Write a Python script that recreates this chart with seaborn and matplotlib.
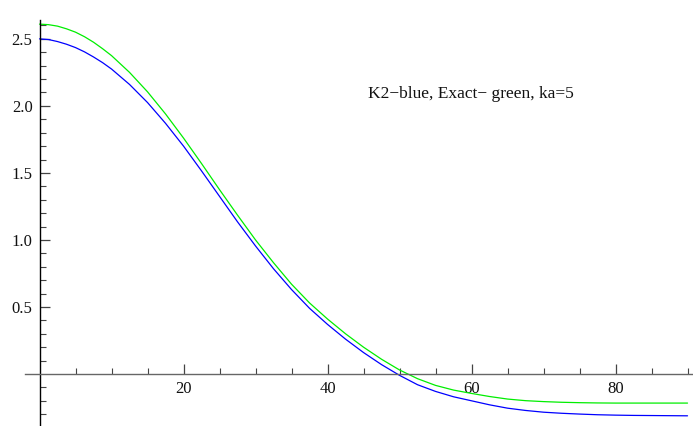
import numpy as np
import pandas as pd
import matplotlib
matplotlib.use("Agg")
import matplotlib.pyplot as plt
import seaborn as sns
from matplotlib.ticker import FixedLocator

sns.set_style("white")
plt.rcParams['font.family'] = ['Liberation Serif', 'DejaVu Serif']

# values
x_vals = [0, 1.25, 2.5, 3.75, 5, 6.25, 7.5, 8.75, 10, 12.5, 15, 17.5, 20, 22.5,
          25, 27.5, 30, 32.5, 35, 37.5, 40, 42.5, 45, 47.5, 50, 52.5, 55, 57.5,
          60, 62.5, 65, 67.5, 70, 72.5, 75, 77.5, 80, 82.5, 85, 87.5, 90]
k2_blue = [2.50, 2.495, 2.48, 2.46, 2.435, 2.403, 2.365, 2.323, 2.275, 2.16,
           2.025, 1.87, 1.70, 1.515, 1.325, 1.135, 0.955, 0.785, 0.63, 0.49,
           0.37, 0.26, 0.16, 0.07, -0.01, -0.08, -0.13, -0.17, -0.20, -0.23,
           -0.255, -0.272, -0.285, -0.293, -0.299, -0.304, -0.307, -0.309,
           -0.31, -0.311, -0.312]
exact_green = [2.61, 2.606, 2.595, 2.575, 2.55, 2.516, 2.475, 2.427, 2.375, 2.25,
               2.105, 1.94, 1.76, 1.57, 1.375, 1.185, 1.00, 0.83, 0.67, 0.53,
               0.41, 0.30, 0.20, 0.11, 0.03, -0.035, -0.085, -0.12, -0.145,
               -0.168, -0.187, -0.199, -0.206, -0.211, -0.214, -0.216, -0.217,
               -0.217, -0.217, -0.217, -0.217]
x_ticks = [20, 40, 60, 80]
y_ticks = [0.5, 1.0, 1.5, 2.0, 2.5]
note = "K2\u2212blue, Exact\u2212 green, ka=5"

df = pd.DataFrame({"x": x_vals, "K2": k2_blue, "Exact": exact_green})

fig = plt.figure(figsize=(6.93, 4.26), dpi=100)
ax = fig.add_axes([0, 0, 1, 1])

sns.lineplot(data=df, x="x", y="Exact", color="#00ee00", lw=0.9, ax=ax)
sns.lineplot(data=df, x="x", y="K2", color="#0000ff", lw=0.9, ax=ax)

ax.set_xlim(-5.49, 90.76)
ax.set_ylim(-0.388, 2.79)

# mathematica style axes crossing at origin
for s in ["top", "right"]:
    ax.spines[s].set_visible(False)
ax.spines["left"].set_position(("data", 0))
ax.spines["bottom"].set_position(("data", 0))
ax.spines["left"].set_bounds(-0.388, 2.64)
ax.spines["bottom"].set_bounds(-2.0, 90.76)
ax.spines["left"].set_color("black")
ax.spines["bottom"].set_color("#666666")
ax.spines["left"].set_linewidth(1.0)
ax.spines["bottom"].set_linewidth(1.0)

ax.xaxis.set_major_locator(FixedLocator(x_ticks))
ax.xaxis.set_minor_locator(FixedLocator([v for v in range(5, 95, 5) if v % 20 != 0]))
ax.yaxis.set_major_locator(FixedLocator(y_ticks))
ax.yaxis.set_minor_locator(FixedLocator([v / 10 for v in range(-3, 27) if v % 5 != 0]))
ax.set_xticklabels([str(v) for v in x_ticks])
ax.set_yticklabels([f"{v:.1f}" for v in y_ticks])

ax.tick_params(which="major", direction="in", length=7, width=0.9, color="#444444",
               labelsize=12, labelcolor="#111111", pad=5)
ax.tick_params(which="minor", direction="in", length=4, width=0.8, color="#444444")
# seaborn's white style switches the tick marks off
ax.tick_params(axis="x", which="both", bottom=True)
ax.tick_params(axis="y", which="both", left=True)

ax.set_xlabel("")
ax.set_ylabel("")
ax.text(45.6, 2.09, note, ha="left", va="center", fontsize=12.5, color="#111111")

fig.savefig("out.png", dpi=100)
